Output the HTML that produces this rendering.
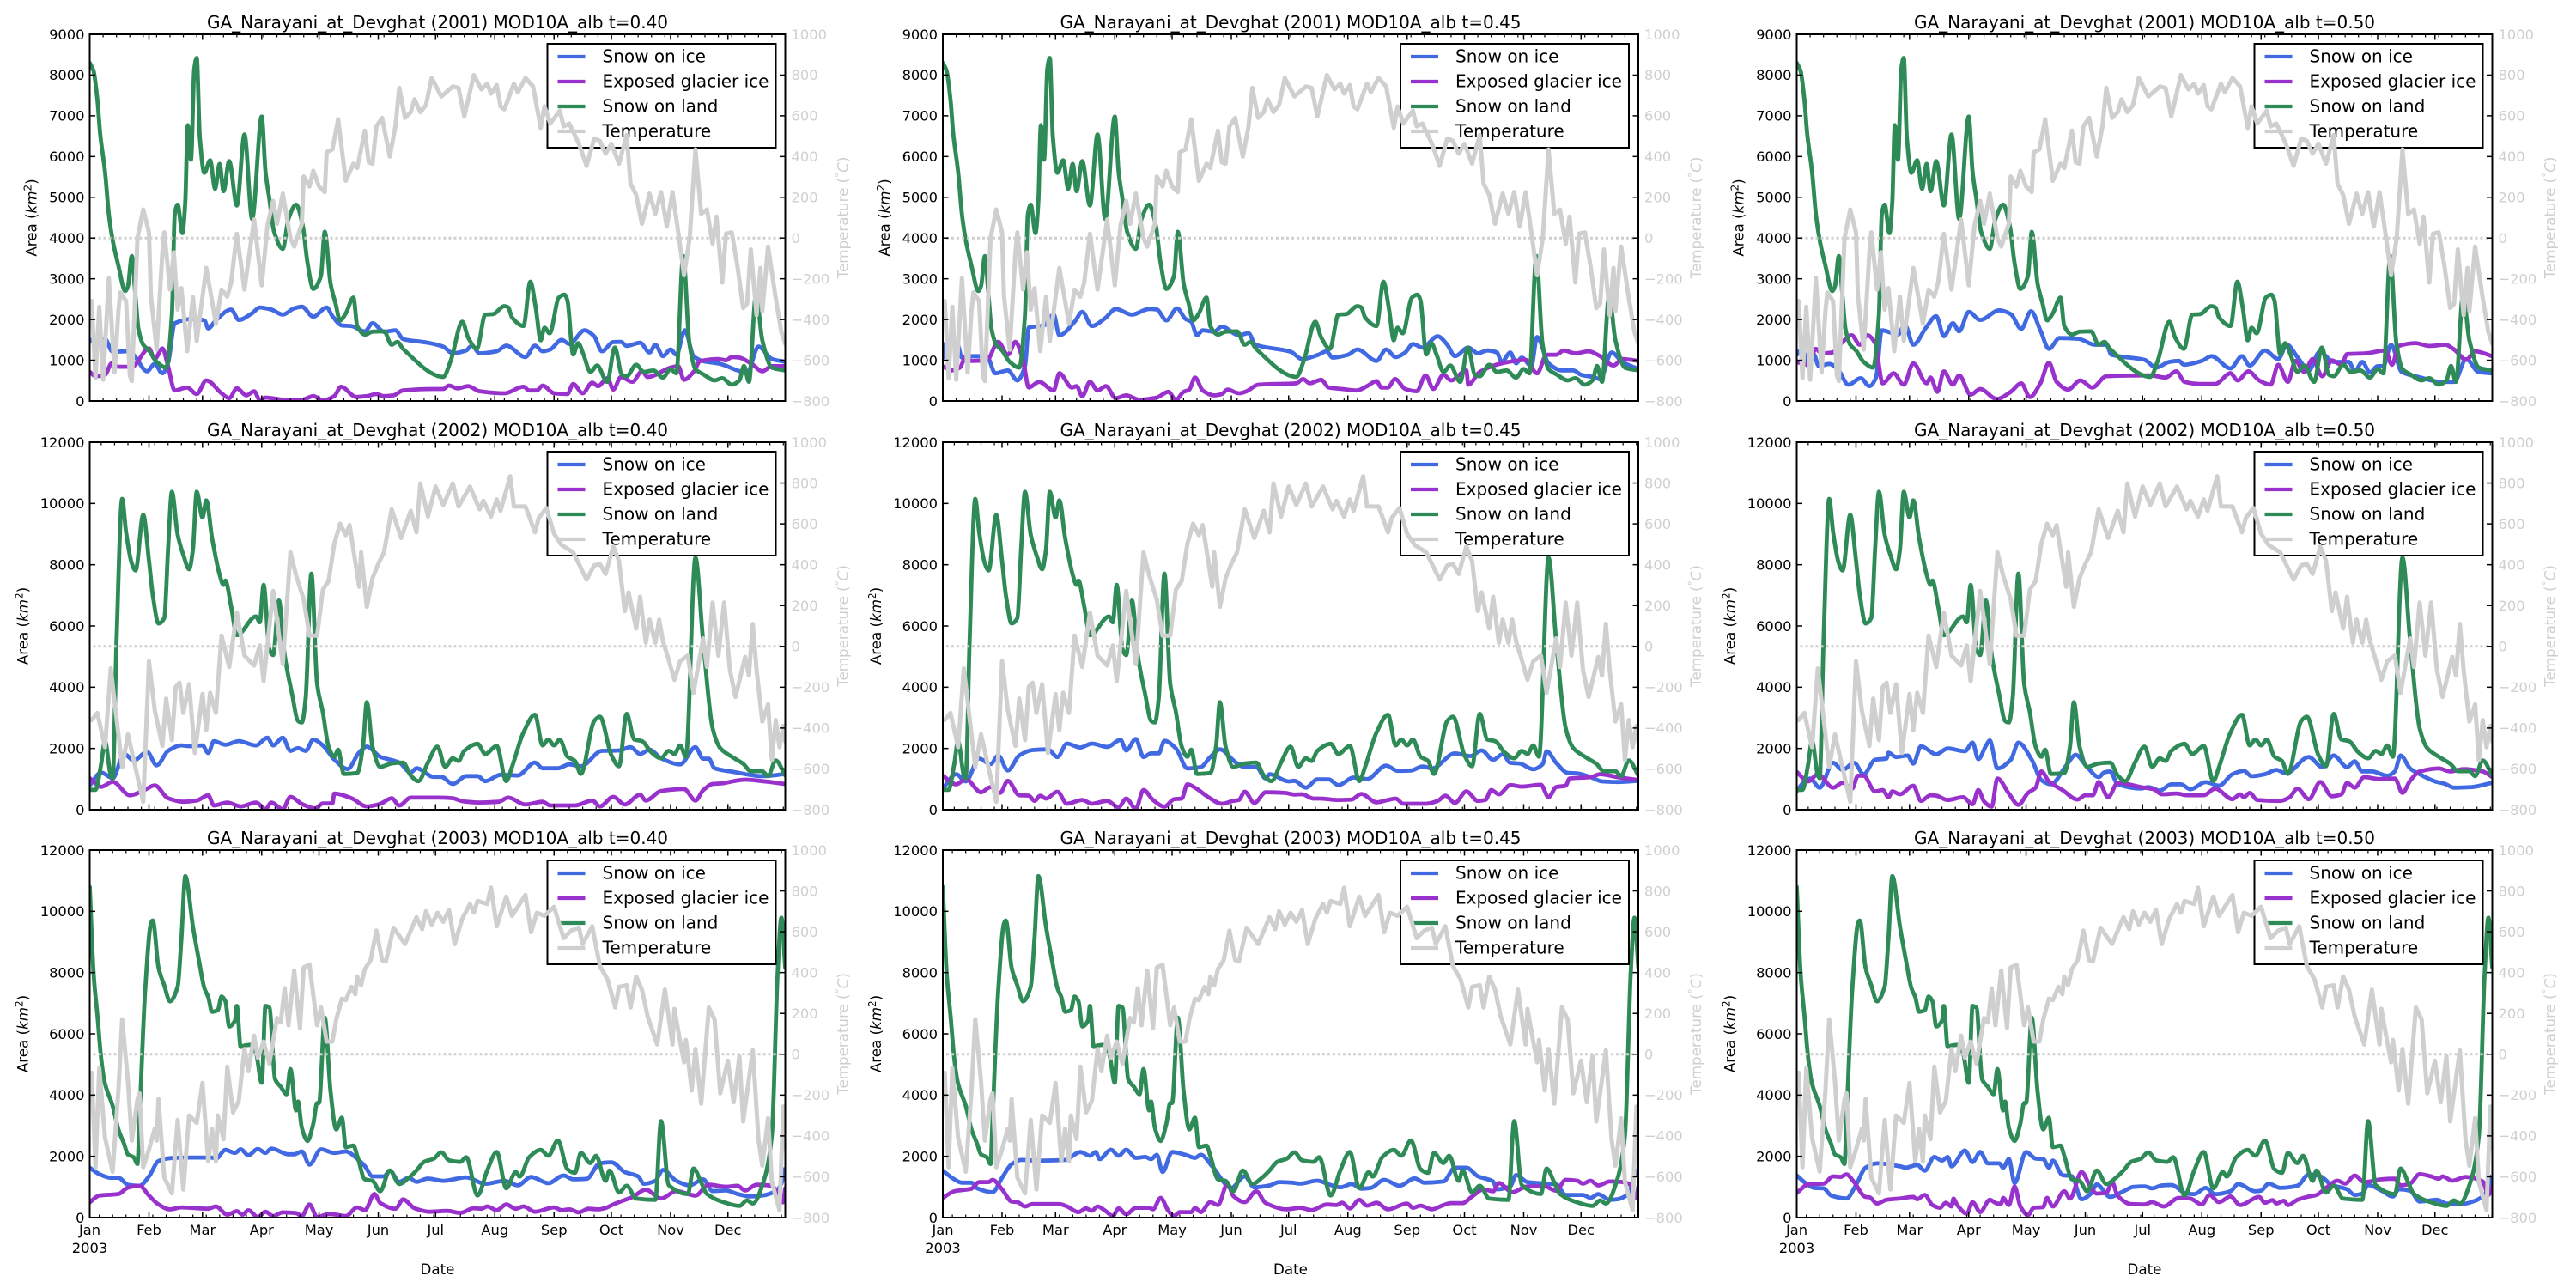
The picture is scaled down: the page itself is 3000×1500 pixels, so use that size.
<!DOCTYPE html>
<html lang="en">
<head>
<meta charset="utf-8">
<title>GA_Narayani_at_Devghat snow and ice area</title>
<style>
html,body{margin:0;padding:0;background:#fff;width:3000px;height:1500px;overflow:hidden}
svg{display:block}
text{font-family:"DejaVu Sans","Liberation Sans",sans-serif}
</style>
</head>
<body>
<svg id="figure" xmlns="http://www.w3.org/2000/svg" width="3000" height="1500" viewBox="0 0 3000 1500"></svg>
<script>
/* Data: every series is a list of [day of year, value] readings. */
const temp2001=[[1,-309],[3,-688],[5,-337],[7,-695],[10,-197],[13,-660],[15,-358],[16,-267],[19,-309],[21,-674],[22,-702],[25,0],[28,140],[31,28],[32,-281],[35,-548],[38,-70],[39,28],[42,-253],[44,-70],[46,-351],[48,-246],[51,-555],[54,-288],[56,-505],[61,-147],[64,-309],[66,-421],[69,-253],[72,-288],[74,-218],[77,21],[81,-253],[86,91],[90,-232],[93,63],[96,182],[98,70],[101,218],[105,0],[107,-42],[111,70],[112,302],[115,253],[117,330],[120,253],[123,225],[124,421],[127,435],[130,583],[134,281],[138,365],[140,344],[144,527],[146,372],[148,365],[150,548],[153,590],[157,400],[160,548],[162,737],[165,590],[168,618],[170,681],[173,618],[176,653],[179,786],[184,695],[190,744],[193,737],[196,597],[201,800],[205,730],[208,758],[210,709],[213,751],[215,646],[217,632],[222,758],[224,716],[228,786],[232,744],[236,541],[238,646],[241,562],[246,625],[248,548],[251,562],[256,463],[260,354],[264,489],[267,477],[270,414],[273,463],[277,365],[281,505],[283,267],[286,211],[289,70],[293,218],[296,119],[299,225],[302,56],[305,225],[308,28],[311,-183],[314,0],[317,435],[320,119],[323,140],[326,-28],[328,105],[331,-218],[333,21],[336,28],[339,-140],[342,-344],[344,-323],[346,-56],[349,-379],[351,-147],[352,-358],[355,-42],[359,-295],[362,-463],[364,-519]];
const temp2002=[[1,-361],[4,-326],[8,-494],[11,-108],[17,-592],[20,-431],[23,-557],[26,-680],[28,-761],[31,-73],[34,-312],[38,-487],[40,-256],[43,-459],[45,-199],[47,-178],[49,-326],[52,-185],[55,-522],[59,-234],[61,-410],[63,-227],[66,-326],[69,53],[73,-101],[77,166],[81,-45],[86,-94],[89,4],[91,-171],[96,271],[101,-87],[105,461],[108,348],[112,229],[115,53],[119,53],[122,278],[125,320],[128,503],[131,601],[134,545],[136,594],[141,292],[142,461],[145,194],[148,334],[151,404],[154,461],[158,671],[163,531],[168,664],[171,559],[173,798],[177,636],[181,783],[185,692],[190,798],[193,685],[199,783],[204,671],[206,713],[210,636],[213,720],[215,664],[220,833],[222,685],[228,685],[233,559],[235,629],[239,678],[243,552],[247,496],[253,461],[260,327],[264,397],[267,404],[270,355],[274,489],[277,418],[280,173],[282,264],[286,88],[288,243],[291,18],[293,131],[296,18],[298,131],[300,25],[303,-66],[306,-164],[309,-73],[313,-45],[316,-227],[321,39],[323,-101],[326,215],[329,-45],[332,215],[335,-115],[338,-248],[343,-52],[345,-143],[347,110],[349,-115],[352,-368],[355,-284],[357,-557],[359,-361],[361,-494],[363,-389],[364,-466]];
const temp2003=[[1,-90],[3,-553],[5,-68],[8,-409],[12,-575],[15,-177],[17,171],[20,-133],[22,-423],[25,-220],[26,-191],[28,-553],[31,-467],[34,-365],[35,-423],[36,-220],[39,-604],[43,-681],[46,-322],[49,-662],[52,-300],[56,-336],[59,-141],[62,-525],[64,-365],[66,-525],[67,-300],[70,-416],[72,-61],[75,-285],[78,-228],[81,26],[83,-83],[86,91],[88,-17],[91,62],[94,-46],[98,178],[100,156],[102,323],[104,142],[107,410],[110,128],[112,425],[115,439],[119,142],[121,229],[124,62],[127,62],[129,171],[132,272],[134,265],[137,330],[139,294],[140,381],[142,338],[144,417],[147,461],[150,606],[153,461],[155,454],[159,620],[165,540],[171,671],[174,613],[176,700],[179,635],[182,693],[185,649],[188,707],[191,540],[195,664],[199,736],[201,693],[203,751],[208,736],[210,816],[213,627],[218,772],[221,678],[228,780],[231,598],[234,693],[238,678],[243,722],[248,569],[252,606],[256,620],[258,540],[263,627],[267,432],[271,367],[275,229],[277,330],[281,338],[283,229],[286,381],[289,316],[292,185],[297,48],[301,316],[305,48],[306,222],[309,62],[311,-39],[312,70],[315,-177],[317,26],[320,-242],[324,229],[327,171],[330,-191],[334,-32],[337,-235],[340,-10],[342,-329],[347,19],[350,-416],[352,-546],[355,-314],[357,-626],[361,-764],[363,-256],[364,-467]];

const land2001=[[0,8300],[2,8100],[4,7400],[5.5,6550],[8,5630],[10,4580],[12,3950],[15,3320],[18.6,2700],[20,2820],[22,3560],[24,2540],[25.5,1770],[28,1380],[31,1240],[35,960],[40,820],[43,2120],[44.5,4580],[46,4820],[48.5,4120],[50,4900],[51.3,6770],[53,5920],[54.7,8150],[56,8420],[57.6,6470],[60,5600],[63,5910],[65.6,5210],[68,5820],[70,5150],[73,5890],[77,4800],[81,6540],[85,4470],[90,6980],[92,5630],[94,4960],[96.5,4155],[101,3735],[104,4470],[108,4820],[111.5,4300],[114,3380],[117,2750],[121,3070],[123,4155],[126,2890],[128.6,2400],[131,1980],[134,2150],[138,2540],[140,1840],[144,1630],[148,1700],[154,1710],[158,1380],[161,1450],[164,1280],[182.5,610],[185,590],[189,1000],[195,1945],[198,1560],[202.6,1280],[207,2120],[211,2130],[217,2330],[219,2300],[221,2050],[227,1840],[230.6,2930],[233.5,2260],[236,1490],[238,1800],[240.7,1660],[245.5,2540],[248.4,2610],[250,2470],[253,1140],[255.6,1420],[258.4,1140],[262,715],[265.6,870],[270.8,470],[274.8,1310],[278.5,645],[281,610],[286,890],[290,715],[295,750],[300,575],[304,785],[307,680],[310.6,3560],[313.8,1420],[317,785],[321.5,645],[327,505],[331,560],[336,400],[340,505],[342.4,860],[345,470],[348.7,2610],[352,1490],[357,820],[364,750]];
const land2002=[[0,650],[3,650],[6,1500],[8,2240],[11,1120],[12,1030],[14,5500],[17,10150],[19,9070],[22,8040],[24,7810],[28,9630],[31,8130],[33,7010],[36,6080],[39,6260],[41,8500],[43,10380],[46,8980],[49,8320],[52,7850],[54,8500],[56,10380],[59,9540],[61,10100],[64,8880],[68,7670],[70,7340],[71,7480],[74,6640],[77,5700],[87,6310],[89,6120],[91,7340],[94,5240],[96,5050],[99,6830],[102,5050],[106,3740],[109,2900],[111,2850],[113,3650],[116,7710],[119,4110],[122,3180],[125,2060],[128,1730],[130,1960],[133,1170],[140,1200],[143,2060],[145,3510],[148,2060],[152,1400],[158,1510],[164,1540],[168,1120],[172,935],[177,1540],[182,2060],[186,1400],[190,1680],[193,1590],[196,1920],[203,2150],[207,1820],[213,2080],[218,935],[221,1400],[227,2520],[233,3100],[237,2100],[240,2290],[243,2100],[246,2290],[250,1730],[254,1590],[257,1170],[264,2900],[267,3040],[273,1780],[277,1420],[281,3130],[285,2290],[289,2240],[294,1870],[299,1680],[303,1920],[306,1820],[309,2100],[312,1730],[317,8230],[321,5520],[326,2660],[330,2010],[336,1730],[342,1500],[346,1260],[352,1260],[355,1100],[359,1610],[364,1120]];
const land2003=[[0,10800],[2,7970],[4,6620],[6,5180],[8,4370],[12,3650],[15,2880],[18,2400],[20,2060],[23,1970],[25,1750],[26,3170],[29,7390],[32,9600],[33,9700],[36,8160],[39,7580],[42,7060],[46,7540],[48,9120],[50,11150],[54,9500],[57,8450],[60,7490],[62,7200],[64,6720],[67,6770],[69,7220],[71,7060],[73,6240],[76,6430],[77,6910],[79,5570],[81,5620],[84,5640],[87,5380],[90,4400],[92,6910],[94,6860],[97,4510],[100,4270],[103,4030],[105,4850],[108,3500],[109,3790],[111,2930],[114,2500],[117,3070],[119,3740],[120,3740],[123,6530],[126,4130],[129,2880],[132,3260],[134,2300],[138,2350],[140,2020],[144,1250],[148,1200],[152,860],[157,1540],[162,1100],[167,1300],[171,1540],[175,1820],[180,1920],[184,2130],[188,1870],[194,1820],[197,1970],[203,720],[208,1540],[213,2140],[218,960],[223,1490],[225,1340],[230,1970],[236,2210],[240,2020],[245,2520],[250,1580],[254,1460],[257,2110],[262,1780],[265,2020],[270,1200],[272,1540],[277,820],[281,1040],[286,620],[296,580],[299,3150],[303,1060],[313,770],[316,1600],[320,1150],[323,770],[334,460],[340,380],[344,560],[347,460],[353,1250],[357,2690],[360,7970],[362,9790],[364,8160]];

const snowIce2001t40=[[0,1450],[2,1520],[8,1520],[12,1210],[21,1220],[24,1070],[30,730],[34,910],[38,680],[41,930],[44.5,1910],[54,2015],[60,1980],[62,1780],[66,1980],[74,2245],[78,1990],[85,2155],[89,2295],[95,2245],[101,2120],[107,2275],[111,2315],[117,2070],[124,2295],[127,2085],[132,1855],[137,1840],[144,1710],[148,1910],[154,1700],[160,1735],[164,1520],[177,1430],[185,1335],[190,1170],[197,1240],[200,1360],[204,1170],[213,1220],[218,1360],[228,1080],[233,1360],[237,1220],[241,1265],[247,1500],[251,1400],[259,1735],[264,1590],[268,1220],[274,1445],[278,1450],[281,1350],[288,1430],[293,1190],[296,1380],[300,1100],[304,1265],[307,1135],[311.5,1735],[316,1100],[321,980],[330,910],[339,750],[344,680],[350,1335],[357,1030],[364,960]];
const exposed2001t40=[[0,715],[3,610],[8,645],[11.5,925],[15,840],[22,840],[31,1290],[34,1030],[38,1290],[41,855],[44.5,260],[51,330],[56,170],[61,505],[69,190],[73,70],[77,310],[82,140],[86,240],[89,30],[92,85],[102,30],[111,30],[117,120],[122,15],[128,120],[131.5,350],[139.5,100],[145,120],[150,170],[154,120],[159,140],[164,260],[180,295],[185,295],[188,380],[192.5,310],[198,365],[204,240],[217,190],[227,350],[230,260],[234,260],[237,380],[243,190],[250,170],[253,420],[258,190],[263,450],[266,365],[271,560],[274,280],[278,590],[284,470],[289,730],[292,590],[304,820],[308,855],[311,520],[316,715],[319.5,980],[329,1030],[333,1000],[336,1080],[340,1065],[347,890],[352,730],[357,855],[364,855]];
const snowIce2001t45=[[0,1065],[2,1450],[7.5,1420],[10,1065],[15,1100],[23,1100],[27.5,680],[34,750],[39,505],[43,855],[45,1805],[53,1855],[58,2120],[61,1615],[69,1945],[73,2190],[78,1840],[85,2035],[90.5,2260],[99,2120],[108,2260],[112,2245],[117,1980],[122.6,2275],[127,2015],[130,1945],[133,1615],[136,1735],[142,1700],[146,1825],[155,1615],[160,1665],[163.6,1380],[182,1210],[188,1030],[196.5,1135],[200.8,1220],[204,1065],[212,1135],[217,1265],[227,985],[232,1265],[237,1080],[242,1190],[246,1400],[251,1310],[259,1590],[264,1380],[268,1100],[275,1310],[280,1170],[285,1240],[290,1190],[292.5,960],[297,1190],[300,925],[303,1065],[308,855],[311,1570],[317,925],[324,750],[330,750],[334,645],[340,590],[344,540],[350,1190],[355.6,960],[364,785]];
const exposed2001t45=[[0,855],[4.6,750],[9,820],[12,1100],[15,985],[23,1000],[29,1450],[34,1135],[38,1450],[42,1000],[45,330],[50.4,470],[58,260],[61,680],[67.6,330],[70,365],[73,120],[77,470],[81,260],[85.4,365],[90.5,70],[96,140],[103,30],[112,85],[118,225],[122,30],[126,225],[129,280],[132,575],[136,260],[142,140],[146,170],[149,280],[155,190],[159,240],[165,400],[185,435],[188.5,540],[192,435],[198,520],[202,330],[209,295],[216.6,260],[222,365],[227,490],[229.5,330],[233,330],[236.7,540],[242,295],[248,240],[252.7,630],[256.7,295],[262,645],[266,505],[274,750],[275,400],[281,715],[292.5,925],[305,1010],[311,680],[316,1135],[321,1135],[325,1240],[331,1170],[338,1220],[344,1100],[351,870],[355.6,1030],[364,985]];
const snowIce2001t50=[[0,1135],[3,1280],[6,855],[9,1135],[11.5,855],[17,910],[21.5,785],[27,400],[33.5,560],[38,365],[41.5,575],[44.5,1735],[53,1630],[56.5,1875],[61,1380],[67.7,1805],[73,2085],[77,1590],[81.7,1910],[85,1710],[90,2190],[96,1990],[106,2225],[112,2135],[117.5,1770],[122.6,2205],[127.5,1735],[132,1280],[137.5,1545],[147.5,1525],[156,1380],[162,1380],[164.7,1135],[182,1010],[188,820],[195,960],[200,985],[202.6,890],[212,985],[217,1100],[227,800],[233,1100],[237,870],[245,1240],[252,1030],[256.5,1380],[262,1080],[268,750],[273.6,1205],[281,960],[289,960],[292,730],[296,960],[300,700],[304,855],[307,855],[311,1380],[316.6,715],[326.6,575],[336.7,470],[344,470],[350.4,1030],[356.7,715],[364,680]];
const exposed2001t50=[[0,960],[6,890],[10,1280],[13,1170],[18.6,1190],[24,1450],[28.7,1615],[33,1380],[37,1615],[41,1420],[45,435],[50.7,680],[56,400],[61,925],[68,435],[70,575],[73.6,225],[77,730],[81.7,400],[85,630],[91,155],[96,295],[104.6,50],[112,225],[117.5,435],[122,100],[127.5,435],[132,940],[136,470],[142,280],[148.4,505],[154.7,330],[162,610],[185,630],[193,575],[198.6,730],[203,470],[210.6,420],[219,420],[227,680],[230.7,505],[236.4,730],[242,505],[248,400],[252,890],[257,470],[261,985],[265.6,715],[270,1030],[275,610],[280,1000],[285,890],[288,1150],[298,1170],[308,1240],[311.5,890],[315,1350],[323.8,1420],[331,1350],[339.5,1380],[344,1265],[350.4,1010],[355,1220],[364,1100]];

const snowIce2002t40=[[0,795],[6,1215],[12,1030],[18,1820],[23,1610],[30,1890],[35,1450],[41,1920],[48,2100],[52,2075],[59,2100],[62,1850],[65,2240],[71,2120],[78,2240],[87,2100],[93,2350],[96,2100],[101,2350],[105,1920],[109,2010],[113,1920],[117,2290],[122,2100],[128,1640],[135,1330],[141,1870],[145,2060],[152,1730],[162,1540],[168,1215],[171,1355],[180,1075],[184,1075],[190,840],[197,1100],[203,1100],[207,935],[215,1140],[224,1120],[233,1540],[237,1355],[245,1355],[251,1480],[257,1420],[268,1920],[277,1935],[283,2040],[288,1820],[293,1960],[299,1680],[309,1480],[317,2040],[321,1665],[324,1665],[327,1355],[337,1235],[352,1095],[364,1170]];
const exposed2002t40=[[0,1030],[6,750],[12,915],[21,470],[29,655],[34,795],[41,375],[49,260],[56,300],[62,470],[65,140],[72,235],[79,110],[87,235],[92,20],[95,235],[101,20],[105,420],[111,190],[118,45],[122,205],[127,205],[128,530],[137,375],[145,110],[152,190],[158,375],[162,140],[168,395],[182,395],[190,375],[195,280],[204,235],[214,260],[219,395],[228,170],[237,260],[241,140],[254,140],[263,300],[267,110],[274,420],[280,170],[288,490],[291,300],[299,610],[311,675],[317,300],[321,635],[326,840],[331,860],[337,935],[343,980],[352,935],[364,840]];
const snowIce2002t45=[[0,690],[7,1160],[12,925],[19,1670],[25,1490],[29,1770],[34,1280],[40,1770],[47,1950],[55,1970],[60,1720],[65,2160],[72,2030],[78,2160],[86,2050],[93,2280],[96,1935],[101,2310],[105,1720],[109,1840],[113,1840],[116,2250],[122,2000],[128,1350],[135,1390],[140,1720],[145,1970],[153,1560],[158,1390],[164,1390],[169,1020],[171,1160],[181,925],[184,945],[190,720],[196,990],[202,990],[207,805],[215,1050],[222,1000],[232,1440],[238,1270],[245,1280],[251,1410],[256,1350],[268,1840],[276,1750],[282,1935],[288,1630],[293,1810],[297,1530],[302,1505],[309,1320],[314,1490],[316,1910],[321,1530],[327,1205],[332,1190],[339,1065],[345,925],[353,905],[364,945]];
const exposed2002t45=[[0,1110],[7,830],[12,1000],[20,570],[25,740],[30,550],[34,945],[40,475],[45,460],[48,290],[51,460],[54,365],[60,590],[65,195],[73,320],[78,195],[86,290],[92,85],[96,365],[101,35],[105,645],[110,320],[116,100],[121,345],[125,365],[128,830],[132,720],[139,410],[146,195],[152,290],[155,320],[158,590],[163,225],[169,570],[179,550],[184,495],[188,505],[194,365],[198,365],[206,320],[214,335],[219,515],[227,245],[233,320],[237,365],[241,195],[253,195],[259,290],[263,460],[268,225],[274,600],[280,290],[284,320],[287,645],[291,505],[297,805],[303,755],[313,815],[317,410],[321,740],[326,785],[328,1020],[339,1065],[344,1160],[353,1065],[364,970]];
const snowIce2002t50=[[0,600],[4,925],[7,1020],[12,720],[19,1530],[24,1300],[30,1530],[35,1160],[41,1630],[47,1670],[48,1860],[52,1720],[58,1770],[61,1505],[65,2070],[73,1810],[79,2000],[88,1910],[92,2190],[95,1650],[99,2090],[101,2260],[105,1350],[112,1630],[116,2190],[123,1630],[128,970],[133,830],[141,1440],[146,1790],[152,1390],[158,1065],[161,1220],[164,1250],[168,830],[180,690],[184,740],[190,625],[196,830],[201,830],[206,670],[214,900],[221,785],[228,1160],[234,1270],[238,1095],[245,1160],[251,1300],[256,1190],[268,1720],[275,1390],[281,1770],[288,1390],[292,1580],[296,1250],[301,1250],[309,1110],[313,1250],[316,1770],[321,1350],[326,1160],[334,925],[339,850],[344,720],[353,740],[364,880]];
const exposed2002t50=[[0,1235],[6,925],[11,1160],[19,720],[24,880],[29,690],[32,1110],[35,1110],[41,600],[45,645],[48,410],[50,600],[54,505],[61,785],[65,290],[70,475],[73,460],[79,320],[87,410],[92,180],[95,645],[98,270],[102,100],[105,1020],[111,530],[116,160],[121,550],[125,720],[128,1250],[132,925],[139,645],[147,335],[151,475],[155,475],[158,905],[163,410],[168,880],[180,740],[187,665],[191,505],[199,530],[204,475],[213,475],[219,690],[228,345],[232,505],[234,410],[237,550],[241,320],[253,290],[258,410],[262,690],[268,345],[274,905],[280,440],[285,505],[288,880],[292,720],[297,1065],[305,1000],[313,1020],[317,550],[321,945],[326,1250],[336,1350],[342,1250],[349,1330],[359,1250],[364,1065]];

const snowIce2003t40=[[0,1630],[5,1420],[11,1300],[15,1300],[20,1075],[26,1040],[31,1345],[36,1845],[42,1940],[51,1960],[64,1960],[66,1920],[71,2210],[76,2110],[79,2230],[83,2035],[88,2240],[92,2110],[95,2255],[104,2065],[107,2065],[111,2160],[115,1730],[121,2230],[128,2110],[134,2160],[140,1920],[144,1680],[148,1345],[154,1345],[157,1535],[162,1170],[167,1300],[171,1170],[177,1275],[185,1200],[197,1315],[207,1105],[217,1200],[224,1055],[231,1325],[240,1125],[248,1375],[253,1250],[260,1265],[267,1775],[273,1805],[280,1490],[287,1345],[290,1105],[296,1200],[300,1555],[307,1200],[314,1055],[321,1250],[326,865],[333,885],[339,770],[346,690],[352,720],[359,865],[362,1105],[363.5,1580],[364,1250]];
const exposed2003t40=[[0,500],[5,720],[15,770],[20,980],[26,1040],[31,720],[36,430],[42,270],[48,335],[62,290],[66,365],[72,95],[77,210],[80,95],[83,240],[88,20],[92,190],[96,50],[101,170],[108,145],[111,50],[115,430],[119,20],[125,115],[129,95],[134,50],[140,335],[144,240],[149,770],[152,480],[160,290],[164,595],[170,305],[178,190],[187,220],[194,155],[201,305],[205,290],[208,365],[213,240],[218,430],[223,290],[227,365],[233,190],[243,335],[247,240],[251,270],[256,170],[261,290],[266,270],[270,315],[274,430],[278,530],[284,670],[291,910],[299,625],[307,865],[317,720],[324,1075],[333,1010],[339,1040],[343,885],[349,1075],[357,1040],[362.8,500],[364,960]];
const snowIce2003t45=[[0,1530],[6,1250],[10,1140],[15,1140],[18,955],[26,830],[31,1300],[36,1740],[41,1880],[50,1860],[64,1880],[72,2140],[77,2020],[80,2140],[82,1910],[88,2215],[92,2020],[96,2215],[101,1950],[106,1980],[109,1910],[112,2050],[115,1490],[120,2140],[127,2050],[132,1950],[135,2050],[141,1670],[151,970],[158,1350],[163,990],[171,1050],[176,1160],[183,1140],[187,1110],[196,1205],[202,1085],[208,990],[214,1095],[219,945],[224,970],[231,1235],[239,1040],[247,1280],[252,1140],[262,1180],[268,1630],[274,1630],[280,1350],[288,1180],[290,925],[297,1020],[300,1390],[306,1160],[316,1110],[321,1085],[326,740],[335,740],[339,645],[343,765],[349,580],[353,600],[359,785],[363,1530],[364,1350]];
const exposed2003t45=[[0,645],[6,860],[15,945],[19,1160],[24,1160],[26,1235],[31,925],[36,525],[39,505],[43,365],[47,440],[61,440],[65,365],[71,180],[75,300],[78,225],[81,365],[85,225],[89,55],[92,300],[96,110],[101,320],[108,320],[110,270],[114,645],[118,225],[121,55],[124,180],[130,180],[132,320],[135,180],[140,505],[144,410],[149,1110],[152,710],[158,505],[164,860],[169,475],[180,270],[187,320],[193,245],[201,430],[206,410],[209,485],[213,300],[218,580],[222,390],[227,485],[233,270],[243,460],[246,320],[250,390],[256,270],[262,410],[266,475],[272,475],[277,690],[283,925],[288,860],[291,1130],[298,830],[306,1020],[315,1020],[321,880],[326,1235],[332,1205],[335,1110],[339,1205],[343,1050],[349,1180],[356,1160],[360,1065],[363,645],[364,1020]];
const snowIce2003t50=[[0,1375],[5,1110],[9,970],[14,955],[18,720],[26,625],[31,1065],[36,1630],[42,1770],[54,1675],[57,1630],[60,1675],[63,1720],[67,1530],[72,1980],[76,1860],[79,1980],[81,1675],[88,2190],[92,1815],[96,2140],[100,1770],[106,1770],[108,1630],[111,1910],[114,1130],[120,2140],[125,1925],[129,1910],[132,1630],[134,1860],[139,1390],[144,1350],[149,600],[154,785],[157,1085],[164,675],[171,860],[176,1000],[182,1020],[186,955],[191,1050],[196,1065],[204,785],[208,765],[214,970],[219,765],[227,860],[231,1095],[240,860],[243,880],[247,1110],[253,970],[262,1040],[268,1410],[274,1350],[280,1065],[288,925],[292,740],[296,785],[299,1065],[306,880],[312,690],[315,925],[321,880],[326,525],[335,580],[340,460],[348,440],[355,550],[361,830],[362.5,1350],[364,925]];
const exposed2003t50=[[0,805],[6,1085],[14,1110],[19,1345],[23,1330],[26,1410],[30,1160],[36,675],[38,665],[42,460],[47,580],[54,625],[61,675],[63,600],[67,740],[71,410],[75,320],[78,485],[81,365],[82,620],[84,410],[89,130],[92,505],[96,180],[101,580],[105,460],[107,460],[108,645],[111,410],[114,1020],[117,365],[121,85],[124,320],[129,345],[131,645],[134,365],[140,860],[143,620],[149,1490],[154,970],[157,785],[162,805],[165,1160],[168,710],[175,440],[182,430],[186,505],[192,365],[200,645],[206,620],[212,430],[216,740],[221,505],[227,690],[232,410],[242,675],[245,485],[249,570],[251,460],[255,550],[257,410],[262,580],[267,675],[272,740],[277,970],[283,1205],[287,1110],[292,1375],[297,1160],[306,1250],[313,1270],[316,1050],[321,1110],[326,1420],[332,1345],[336,1270],[338,1345],[343,1205],[350,1330],[359,1180],[362,740],[364,1020]];

/* Categories and tick labels */
const panelTitles=[
  ["GA_Narayani_at_Devghat (2001) MOD10A_alb t=0.40","GA_Narayani_at_Devghat (2001) MOD10A_alb t=0.45","GA_Narayani_at_Devghat (2001) MOD10A_alb t=0.50"],
  ["GA_Narayani_at_Devghat (2002) MOD10A_alb t=0.40","GA_Narayani_at_Devghat (2002) MOD10A_alb t=0.45","GA_Narayani_at_Devghat (2002) MOD10A_alb t=0.50"],
  ["GA_Narayani_at_Devghat (2003) MOD10A_alb t=0.40","GA_Narayani_at_Devghat (2003) MOD10A_alb t=0.45","GA_Narayani_at_Devghat (2003) MOD10A_alb t=0.50"]
];
const legendLabels=["Snow on ice","Exposed glacier ice","Snow on land","Temperature"];
const areaTicks2001=[0,1000,2000,3000,4000,5000,6000,7000,8000,9000];
const areaTicksOther=[0,2000,4000,6000,8000,10000,12000];
const tempTicks=[-800,-600,-400,-200,0,200,400,600,800,1000];
const monthLabels=["Jan","Feb","Mar","Apr","May","Jun","Jul","Aug","Sep","Oct","Nov","Dec"];
const monthDays=[0,31,59,90,120,151,181,212,243,273,304,334];
const firstMonday=[7,6,5];
const yearLabel="2003";
const dateLabel="Date";

const snowIcePanels=[[snowIce2001t40,snowIce2001t45,snowIce2001t50],[snowIce2002t40,snowIce2002t45,snowIce2002t50],[snowIce2003t40,snowIce2003t45,snowIce2003t50]];
const exposedPanels=[[exposed2001t40,exposed2001t45,exposed2001t50],[exposed2002t40,exposed2002t45,exposed2002t50],[exposed2003t40,exposed2003t45,exposed2003t50]];
const landRows=[land2001,land2002,land2003];
const tempRows=[temp2001,temp2002,temp2003];
const areaTickRows=[areaTicks2001,areaTicksOther,areaTicksOther];

/* Layout */
const colLeft=[104.5,1098,2092.5];
const rowTop=[40,515,990];
const rowBottom=[467,943,1418];
const axisWidth=810;
const lastDay=364;
const tempMin=-800,tempMax=1000;
const colors={ice:"#4169e1",exposed:"#9932cc",land:"#2e8b57",temp:"#cfcfcf",tempText:"#cfcfcf"};
const svg=document.getElementById("figure");
const NS="http://www.w3.org/2000/svg";

function mk(tag,attrs,parent,txt){
  const e=document.createElementNS(NS,tag);
  for(const k in attrs)e.setAttribute(k,attrs[k]);
  if(txt!==undefined)e.textContent=txt;
  parent.appendChild(e);
  return e;
}
function fmt(v){return String(v).replace("-","\u2212");}

/* Monotone cubic path through projected readings: rounded peaks, no overshoot. */
function smoothPath(pts){
  const n=pts.length;
  const slope=[];
  for(let i=0;i<n-1;i++){
    const dx=pts[i+1][0]-pts[i][0];
    slope.push(dx>0?(pts[i+1][1]-pts[i][1])/dx:0);
  }
  const tan=[slope[0]];
  for(let i=1;i<n-1;i++){
    tan.push(slope[i-1]*slope[i]<=0?0:2*slope[i-1]*slope[i]/(slope[i-1]+slope[i]));
  }
  tan.push(slope[n-2]);
  let d="M"+pts[0][0].toFixed(1)+" "+pts[0][1].toFixed(1);
  for(let i=0;i<n-1;i++){
    const h=(pts[i+1][0]-pts[i][0])/3;
    d+="C"+(pts[i][0]+h).toFixed(1)+" "+(pts[i][1]+tan[i]*h).toFixed(1)+" "+(pts[i+1][0]-h).toFixed(1)+" "+(pts[i+1][1]-tan[i+1]*h).toFixed(1)+" "+pts[i+1][0].toFixed(1)+" "+pts[i+1][1].toFixed(1);
  }
  return d;
}

for(let r=0;r<3;r++){
  for(let c=0;c<3;c++){
    const L=colLeft[c],R=L+axisWidth,T=rowTop[r],B=rowBottom[r],H=B-T;
    const areaTicks=areaTickRows[r];
    const areaMax=areaTicks[areaTicks.length-1];
    const xOf=d=>L+d/lastDay*axisWidth;
    const yArea=v=>B-v/areaMax*H;
    const yTemp=t=>B-(t-tempMin)/(tempMax-tempMin)*H;
    const pathOf=(series,yFn)=>series.map((p,i)=>(i?"L":"M")+xOf(p[0]).toFixed(1)+" "+yFn(p[1]).toFixed(1)).join("");
    const curveOf=(series,yFn)=>smoothPath(series.map(p=>[xOf(p[0]),yFn(p[1])]));

    const panel=mk("g",{},svg);
    
    

    const clipId="clip-"+r+"-"+c;
    const defs=mk("defs",{},panel);
    const clip=mk("clipPath",{id:clipId},defs);
    mk("rect",{x:L,y:T,width:axisWidth,height:H},clip);

    const title=mk("text",{x:L+axisWidth/2,y:T-7,"text-anchor":"middle","font-size":20,fill:"#000"},panel,panelTitles[r][c]);
    
    

    const bg=mk("rect",{x:L,y:T,width:axisWidth,height:H,fill:"#fff"},panel);
    
    

    const lines=mk("g",{"clip-path":"url(#"+clipId+")",fill:"none","stroke-linejoin":"round","stroke-linecap":"round"},panel);
    
    

    const iceLine=mk("path",{d:curveOf(snowIcePanels[r][c],yArea),stroke:colors.ice,"stroke-width":4.8},lines);
    
    

    const exposedLine=mk("path",{d:curveOf(exposedPanels[r][c],yArea),stroke:colors.exposed,"stroke-width":4.8},lines);
    
    

    const landLine=mk("path",{d:curveOf(landRows[r],yArea),stroke:colors.land,"stroke-width":4.8},lines);
    
    

    /* legend */
    const legendShift=r===2?1:0;
    const legend=mk("g",{},panel);
    
    
    const frame=mk("rect",{x:R-277,y:T+11+legendShift,width:266,height:121,fill:"#fff",stroke:"#000","stroke-width":2},legend);
    
    
    const swatchColors=[colors.ice,colors.exposed,colors.land,colors.temp];
    legendLabels.forEach((lab,i)=>{
      const ly=T+26+legendShift+i*29;
      const sw=mk("line",{x1:R-265,x2:R-233,y1:ly,y2:ly,stroke:swatchColors[i],"stroke-width":4.2},legend);
      
      
      const lt=mk("text",{x:R-213,y:ly+6.7,"font-size":20,fill:"#000"},legend,lab);
      
      
    });

    /* temperature axis content, drawn over the legend */
    const tempGroup=mk("g",{"clip-path":"url(#"+clipId+")",fill:"none","stroke-linejoin":"round","stroke-linecap":"round"},panel);
    
    
    const zeroLine=mk("line",{x1:L+4,x2:R-4,y1:yTemp(0),y2:yTemp(0),stroke:colors.temp,"stroke-width":3,"stroke-dasharray":"3 3","stroke-linecap":"butt"},tempGroup);
    
    
    const tempLine=mk("path",{d:pathOf(tempRows[r],yTemp),stroke:colors.temp,"stroke-width":5},tempGroup);
    
    

    /* frame */
    const border=mk("rect",{x:L,y:T,width:axisWidth,height:H,fill:"none",stroke:"#000","stroke-width":2},panel);
    
    

    /* left axis */
    const leftAxis=mk("g",{},panel);
    
    
    areaTicks.forEach(v=>{
      const y=yArea(v);
      const tick=mk("line",{x1:L,x2:L+6.5,y1:y,y2:y,stroke:"#000","stroke-width":1.5},leftAxis);
      
      
      const lab=mk("text",{x:L-6,y:y+5.8,"text-anchor":"end","font-size":16.3,fill:"#000"},leftAxis,fmt(v));
      
      
    });
    const leftX=L+(r===0?-62:-72);
    const leftY=(T+B)/2;
    const yTitle=mk("text",{transform:"translate("+leftX+","+leftY+") rotate(-90)","text-anchor":"middle","font-size":16.7,fill:"#000"},leftAxis);
    
    
    mk("tspan",{},yTitle,"Area (");
    mk("tspan",{"font-style":"italic"},yTitle,"km");
    mk("tspan",{dy:-6,"font-size":12},yTitle,"2");
    mk("tspan",{dy:6},yTitle,")");

    /* right axis */
    const rightAxis=mk("g",{},panel);
    
    
    tempTicks.forEach(t=>{
      const y=yTemp(t);
      const tick=mk("line",{x1:R-6.5,x2:R,y1:y,y2:y,stroke:"#000","stroke-width":1.5},rightAxis);
      
      
      const lab=mk("text",{x:R+7,y:y+5.8,"font-size":16.3,fill:colors.tempText},rightAxis,fmt(t));
      
      
    });
    const rightTitle=mk("text",{transform:"translate("+(R+73)+","+leftY+") rotate(-90)","text-anchor":"middle","font-size":16.7,fill:colors.tempText},rightAxis);
    
    
    mk("tspan",{},rightTitle,"Temperature (");
    mk("tspan",{dy:-6,"font-size":12},rightTitle,"\u00b0");
    mk("tspan",{dy:6,"font-style":"italic"},rightTitle,"C");
    mk("tspan",{},rightTitle,")");

    /* x axis */
    const xAxis=mk("g",{},panel);
    
    
    for(let d=firstMonday[r];d<lastDay;d+=7){
      const x=xOf(d);
      const minorBottom=mk("line",{x1:x,x2:x,y1:B,y2:B-3.5,stroke:"#000","stroke-width":1.2},xAxis);
      
      
      const minorTop=mk("line",{x1:x,x2:x,y1:T,y2:T+3.5,stroke:"#000","stroke-width":1.2},xAxis);
      
      
    }
    monthDays.forEach((d,i)=>{
      const x=xOf(d);
      const majorBottom=mk("line",{x1:x,x2:x,y1:B,y2:B-6.5,stroke:"#000","stroke-width":1.5},xAxis);
      
      
      const majorTop=mk("line",{x1:x,x2:x,y1:T,y2:T+6.5,stroke:"#000","stroke-width":1.5},xAxis);
      
      
      if(r===2){
        const lab=mk("text",{x:x,y:B+20,"text-anchor":"middle","font-size":16.3,fill:"#000"},xAxis,monthLabels[i]);
        
        
      }
    });
    if(r===2){
      const yr=mk("text",{x:L,y:B+41,"text-anchor":"middle","font-size":16.3,fill:"#000"},xAxis,yearLabel);
      
      
      const xt=mk("text",{x:L+axisWidth/2,y:B+66,"text-anchor":"middle","font-size":16.7,fill:"#000"},xAxis,dateLabel);
      
      
    }
  }
}
</script>
</body>
</html>
